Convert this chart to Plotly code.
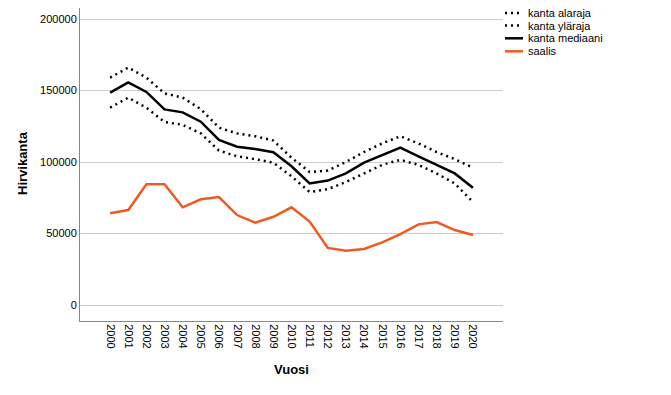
import plotly.graph_objects as go

years = [str(y) for y in range(2000, 2021)]
kanta_alaraja = [159000, 166000, 159000, 148000, 145000, 137000, 124000, 120000, 118000, 115000, 103000,
                 93000, 94000, 100000, 107000, 113000, 118000, 113000, 107000, 102000, 96000]
kanta_ylaraja = [138000, 145000, 138000, 128000, 126000, 120000, 108000, 104000, 102000, 99500, 90000,
                 79000, 81000, 86000, 92000, 98000, 101500, 98000, 92000, 85000, 72000]
kanta_mediaani = [148500, 155700, 149000, 136800, 134700, 128200, 115400, 110700, 109100, 106800, 97000,
                  85000, 87000, 92000, 99500, 105000, 110000, 104000, 98000, 92000, 82000]
saalis = [64100, 66400, 84400, 84400, 68300, 73900, 75500, 62900, 57600, 61700, 68300,
          58300, 39900, 38000, 39200, 43800, 49600, 56400, 58000, 52400, 49000]
y_ticks = [0, 50000, 100000, 150000, 200000]

series = [
    ("kanta alaraja", kanta_alaraja, "black", "2px,4px"),
    ("kanta yläraja", kanta_ylaraja, "black", "2px,4px"),
    ("kanta mediaani", kanta_mediaani, "black", "solid"),
    ("saalis", saalis, "#f05a22", "solid"),
]

W, H = 671, 395
OFF = 8  # page body margin
L, R, T, B = 72, 176, 0, 82

fig = go.Figure()
for name, vals, col, dash in series:
    fig.add_trace(go.Scatter(x=years, y=vals, name=name, mode="lines",
                             line=dict(color=col, width=2.5, dash=dash), showlegend=False))

pw, ph = W - L - R, H - T - B
def px(x):
    return (x - OFF - L) / pw
def py(y):
    return 1 - (y - OFF - T) / ph

legend_y = [13, 25.5, 38.3, 51.3]
for (name, vals, col, dash), ly in zip(series, legend_y):
    fig.add_shape(type="line", xref="paper", yref="paper",
                  x0=px(505), x1=px(523), y0=py(ly), y1=py(ly),
                  line=dict(color=col, width=2.5, dash=dash if dash != "solid" else None))
    fig.add_annotation(xref="paper", yref="paper", x=px(526), y=py(ly), text=name,
                       showarrow=False, xanchor="left", yanchor="middle",
                       font=dict(size=11, color="black"))

fig.add_annotation(xref="paper", yref="paper", x=px(291), y=py(369), text="<b>Vuosi</b>",
                   showarrow=False, xanchor="center", yanchor="middle", font=dict(size=13))
fig.add_annotation(xref="paper", yref="paper", x=px(22), y=py(163), text="<b>Hirvikanta</b>",
                   showarrow=False, xanchor="center", yanchor="middle", textangle=-90, font=dict(size=13))

fig.update_layout(
    width=W, height=H,
    margin=dict(l=L, r=R, t=T, b=B, pad=0),
    paper_bgcolor="white", plot_bgcolor="white",
    font=dict(family="Liberation Sans, Arial, sans-serif", size=11, color="black"),
    showlegend=False,
)
fig.update_xaxes(
    type="category", range=[-1.66, 21.66], tickangle=90, automargin=False,
    showline=True, linecolor="#888888", linewidth=1,
    showgrid=False, ticks="", zeroline=False,
)
fig.update_yaxes(
    range=[-11189, 207692], tickvals=y_ticks, ticktext=[str(v) for v in y_ticks], automargin=False,
    showline=True, linecolor="#888888", linewidth=1,
    showgrid=True, gridcolor="#cccccc", gridwidth=1, zeroline=False, ticks="",
)
fig.write_html("out.html")
